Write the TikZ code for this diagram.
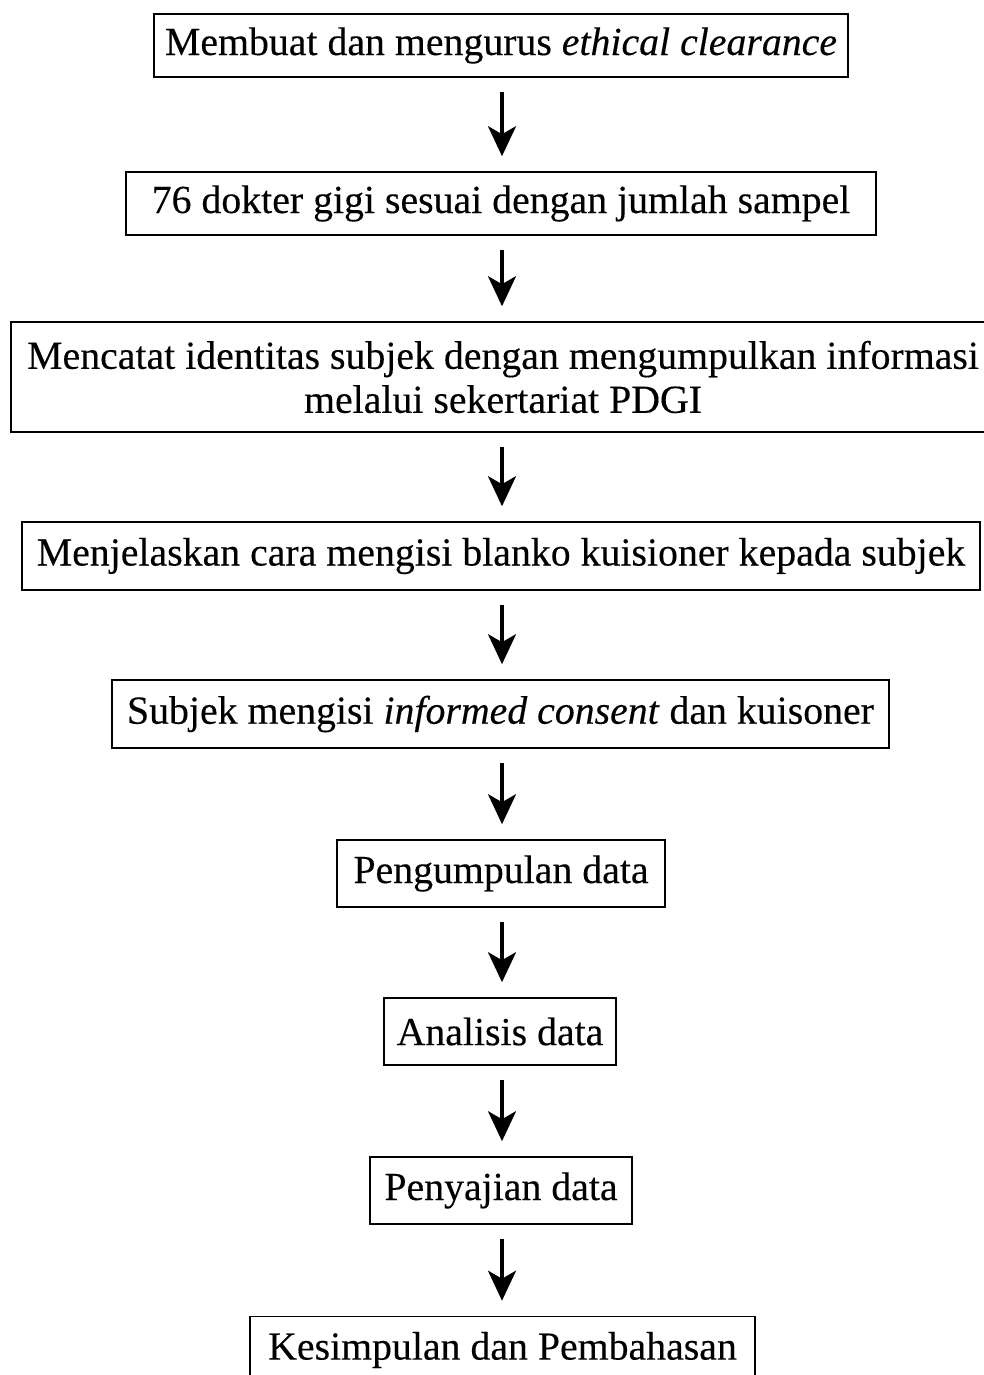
\documentclass[tikz,border=0pt]{standalone}
\usepackage{fontspec}
\setmainfont{Liberation Serif}[FakeBold=0.25]
\usetikzlibrary{arrows.meta}
\begin{document}
\begin{tikzpicture}[x=1pt,y=-1pt,
  stepbox/.style={draw=black, line width=1.6pt, inner sep=0pt, align=center,
    font=\fontsize{39.8}{44}\selectfont},
  flow/.style={line width=3.5pt, -{Stealth[length=30pt,width=28pt,inset=8pt]},
    shorten <=14pt, shorten >=15pt}]
\useasboundingbox (0,0) rectangle (984,1375);
\node[stepbox, minimum width=694pt, minimum height=63pt] (b1) at (501,45.5) {Membuat dan mengurus \textit{ethical clearance}};
\node[stepbox, minimum width=750pt, minimum height=63pt] (b2) at (501,203.5) {76 dokter gigi sesuai dengan jumlah sampel};
\node[stepbox, minimum width=984pt, minimum height=110pt] (b3) at (503,377) {Mencatat identitas subjek dengan mengumpulkan informasi\\ melalui sekertariat PDGI};
\node[stepbox, minimum width=958pt, minimum height=68pt] (b4) at (501,556) {Menjelaskan cara mengisi blanko kuisioner kepada subjek};
\node[stepbox, minimum width=777pt, minimum height=68pt] (b5) at (500.5,714) {Subjek mengisi \textit{informed consent} dan kuisoner};
\node[stepbox, minimum width=328pt, minimum height=67pt] (b6) at (501,873.5) {Pengumpulan data};
\node[stepbox, minimum width=232pt, minimum height=67pt] (b7) at (500,1031.5) {Analisis data};
\node[stepbox, minimum width=262pt, minimum height=67pt] (b8) at (501,1190.5) {Penyajian data};
\node[stepbox, minimum width=505pt, minimum height=67pt] (b9) at (502.5,1350) {Kesimpulan dan Pembahasan};
\foreach \a/\b in {b1/b2,b2/b3,b3/b4,b4/b5,b5/b6,b6/b7,b7/b8,b8/b9}
  \draw[flow] (\a.south -| 502,0) -- (\b.north -| 502,0);
\end{tikzpicture}
\end{document}
